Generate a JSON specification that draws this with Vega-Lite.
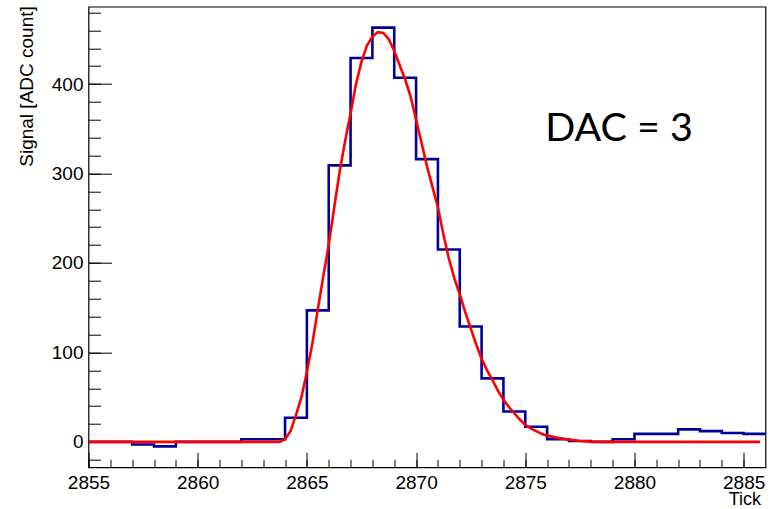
{
  "$schema": "https://vega.github.io/schema/vega-lite/v6.json",
  "width": 677,
  "height": 460.6,
  "autosize": {"type": "none"},
  "padding": {"left": 88.5, "top": 6.7, "right": 8.5, "bottom": 41.7},
  "background": "white",
  "config": {"view": {"stroke": "black", "strokeWidth": 1.2}},
  "datasets": {
    "hist": [
      {"tick": 2855, "signal": 0}, {"tick": 2856, "signal": 0}, {"tick": 2857, "signal": -3},
      {"tick": 2858, "signal": -5}, {"tick": 2859, "signal": 0}, {"tick": 2860, "signal": 0},
      {"tick": 2861, "signal": 0}, {"tick": 2862, "signal": 3}, {"tick": 2863, "signal": 3},
      {"tick": 2864, "signal": 27}, {"tick": 2865, "signal": 147}, {"tick": 2866, "signal": 309},
      {"tick": 2867, "signal": 429}, {"tick": 2868, "signal": 463}, {"tick": 2869, "signal": 407},
      {"tick": 2870, "signal": 316}, {"tick": 2871, "signal": 215}, {"tick": 2872, "signal": 129},
      {"tick": 2873, "signal": 71}, {"tick": 2874, "signal": 34}, {"tick": 2875, "signal": 17},
      {"tick": 2876, "signal": 3}, {"tick": 2877, "signal": 1}, {"tick": 2878, "signal": 0},
      {"tick": 2879, "signal": 3}, {"tick": 2880, "signal": 9}, {"tick": 2881, "signal": 9},
      {"tick": 2882, "signal": 14}, {"tick": 2883, "signal": 12}, {"tick": 2884, "signal": 10},
      {"tick": 2885, "signal": 9}, {"tick": 2886, "signal": 9}
    ],
    "fit": [
      {"tick": 2855, "signal": 0}, {"tick": 2863.75, "signal": 0}, {"tick": 2864.0, "signal": 3},
      {"tick": 2864.25, "signal": 12}, {"tick": 2864.5, "signal": 30}, {"tick": 2864.75, "signal": 50},
      {"tick": 2865.0, "signal": 78}, {"tick": 2865.25, "signal": 110}, {"tick": 2865.5, "signal": 148},
      {"tick": 2865.75, "signal": 185}, {"tick": 2866.0, "signal": 220}, {"tick": 2866.25, "signal": 262},
      {"tick": 2866.5, "signal": 302}, {"tick": 2866.75, "signal": 336}, {"tick": 2867.0, "signal": 367},
      {"tick": 2867.25, "signal": 400}, {"tick": 2867.5, "signal": 425}, {"tick": 2867.75, "signal": 443},
      {"tick": 2868.0, "signal": 453}, {"tick": 2868.25, "signal": 458}, {"tick": 2868.5, "signal": 457},
      {"tick": 2868.75, "signal": 450}, {"tick": 2869.0, "signal": 437}, {"tick": 2869.25, "signal": 421},
      {"tick": 2869.5, "signal": 405}, {"tick": 2869.75, "signal": 386}, {"tick": 2870.0, "signal": 360},
      {"tick": 2870.25, "signal": 334}, {"tick": 2870.5, "signal": 308}, {"tick": 2870.75, "signal": 285},
      {"tick": 2871.0, "signal": 262}, {"tick": 2871.25, "signal": 232}, {"tick": 2871.5, "signal": 205},
      {"tick": 2871.75, "signal": 183}, {"tick": 2872.0, "signal": 165}, {"tick": 2872.25, "signal": 145},
      {"tick": 2872.5, "signal": 127}, {"tick": 2872.75, "signal": 109}, {"tick": 2873.0, "signal": 93},
      {"tick": 2873.25, "signal": 80}, {"tick": 2873.5, "signal": 69}, {"tick": 2873.75, "signal": 57},
      {"tick": 2874.0, "signal": 47}, {"tick": 2874.25, "signal": 39}, {"tick": 2874.5, "signal": 32},
      {"tick": 2874.75, "signal": 25}, {"tick": 2875.0, "signal": 19}, {"tick": 2875.25, "signal": 15},
      {"tick": 2875.5, "signal": 12}, {"tick": 2875.75, "signal": 9}, {"tick": 2876.0, "signal": 7},
      {"tick": 2876.5, "signal": 4.5}, {"tick": 2877.0, "signal": 2.5}, {"tick": 2877.5, "signal": 1},
      {"tick": 2878.0, "signal": 0.3}, {"tick": 2878.5, "signal": 0}, {"tick": 2885.75, "signal": 0}
    ],
    "note": [{"tick": 2879.3, "signal": 336, "label": "DAC = 3"}]
  },
  "layer": [
    {
      "data": {"name": "hist"},
      "mark": {"type": "line", "interpolate": "step-after", "color": "#000099", "strokeWidth": 2.6, "clip": true},
      "encoding": {
        "x": {
          "field": "tick", "type": "quantitative",
          "scale": {"domain": [2855, 2886], "nice": false, "zero": false},
          "axis": {
            "orient": "bottom", "values": [2855, 2860, 2865, 2870, 2875, 2880, 2885], "format": "d",
            "tickSize": -15, "tickColor": "black", "tickWidth": 1, "domain": false, "grid": false,
            "labelFont": "Liberation Sans", "labelFontSize": 19, "labelColor": "black",
            "labelPadding": 21.5, "labelFlush": false, "labelOverlap": false, "labelBaseline": "top",
            "title": "Tick", "titleFont": "Liberation Sans", "titleFontSize": 18,
            "titleFontWeight": "normal", "titleColor": "black", "titleAnchor": "end", "titleAlign": "right",
            "titleX": 672, "titleY": 37.5, "titleBaseline": "alphabetic"
          }
        },
        "y": {
          "field": "signal", "type": "quantitative",
          "scale": {"domain": [-28.4, 486.4], "nice": false, "zero": false},
          "axis": {
            "orient": "left", "values": [0, 100, 200, 300, 400], "format": "d",
            "tickSize": -23, "tickColor": "black", "tickWidth": 1, "domain": false, "grid": false,
            "labelFont": "Liberation Sans", "labelFontSize": 19, "labelColor": "black",
            "labelPadding": 28.5, "labelFlush": false, "labelOverlap": false,
            "title": "Signal [ADC count]", "titleFont": "Liberation Sans", "titleFontSize": 19,
            "titleFontWeight": "normal", "titleColor": "black", "titleAnchor": "end", "titleAlign": "right",
            "titleAngle": -90, "titleX": -71.5, "titleY": -1, "titleBaseline": "top"
          }
        }
      }
    },
    {
      "data": {"name": "fit"},
      "mark": {"type": "line", "color": "#ff0000", "strokeWidth": 2.6, "clip": true},
      "encoding": {
        "x": {
          "field": "tick", "type": "quantitative",
          "scale": {"domain": [2855, 2886], "nice": false, "zero": false},
          "axis": {
            "orient": "bottom",
            "values": [2855, 2856, 2857, 2858, 2859, 2860, 2861, 2862, 2863, 2864, 2865, 2866, 2867, 2868, 2869, 2870, 2871, 2872, 2873, 2874, 2875, 2876, 2877, 2878, 2879, 2880, 2881, 2882, 2883, 2884, 2885],
            "tickSize": -8, "tickColor": "black", "tickWidth": 1, "domain": false, "grid": false,
            "labels": false, "title": null
          }
        },
        "y": {
          "field": "signal", "type": "quantitative",
          "scale": {"domain": [-28.4, 486.4], "nice": false, "zero": false},
          "axis": {
            "orient": "left",
            "values": [-20, 0, 20, 40, 60, 80, 100, 120, 140, 160, 180, 200, 220, 240, 260, 280, 300, 320, 340, 360, 380, 400, 420, 440, 460, 480],
            "tickSize": -12, "tickColor": "black", "tickWidth": 1, "domain": false, "grid": false,
            "labels": false, "title": null
          }
        }
      }
    },
    {
      "data": {"name": "note"},
      "mark": {"type": "text", "font": "Lato", "fontSize": 39.5, "color": "black", "align": "center", "baseline": "alphabetic"},
      "encoding": {
        "x": {"field": "tick", "type": "quantitative", "axis": null},
        "y": {"field": "signal", "type": "quantitative", "axis": null},
        "text": {"field": "label"}
      }
    }
  ],
  "resolve": {"axis": {"x": "independent", "y": "independent"}}
}
